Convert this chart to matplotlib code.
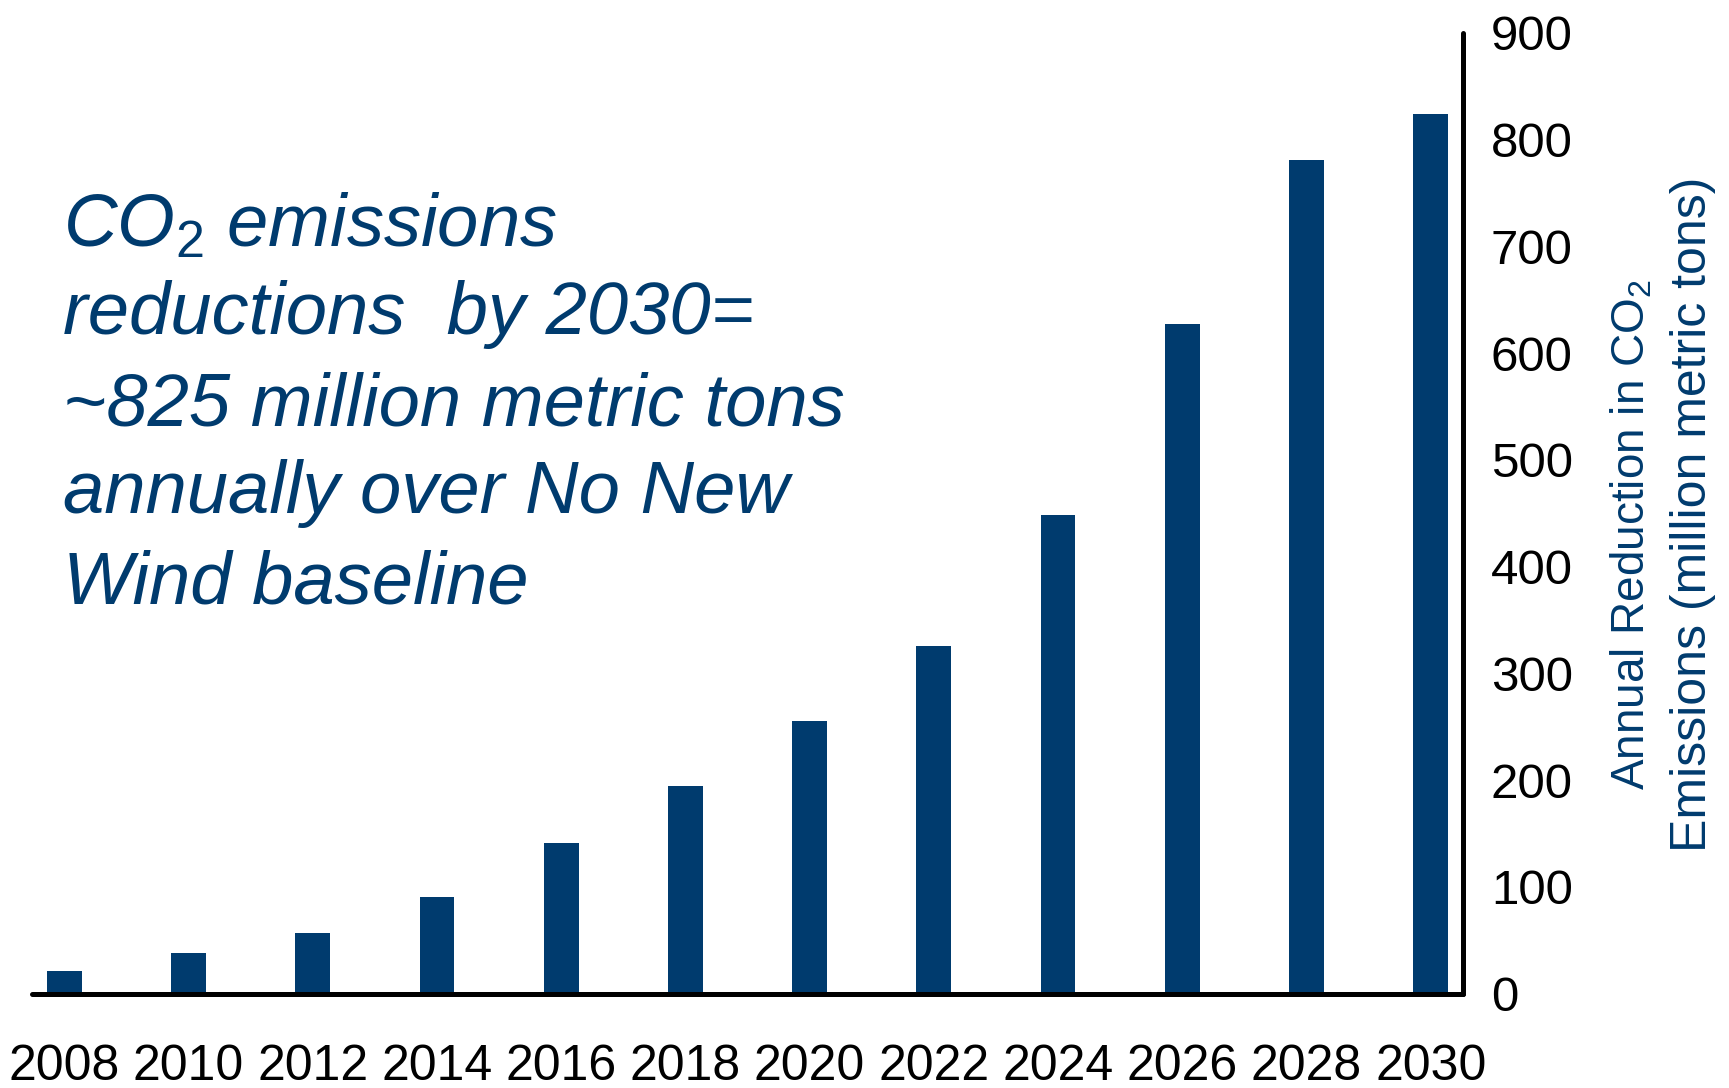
import numpy as np
import matplotlib
matplotlib.use("Agg")
import matplotlib.pyplot as plt

plt.rcParams['font.family'] = ['Liberation Sans', 'DejaVu Sans']
plt.rcParams['mathtext.fontset'] = 'custom'
plt.rcParams['mathtext.rm'] = 'Liberation Sans'
plt.rcParams['mathtext.it'] = 'Liberation Sans:italic'

# data
years = ['2008', '2010', '2012', '2014', '2016', '2018',
         '2020', '2022', '2024', '2026', '2028', '2030']
reduction = [21, 38, 57, 90, 141, 194, 255, 326, 448, 627, 781, 824]
yticks = [0, 100, 200, 300, 400, 500, 600, 700, 800, 900]

navy = '#003B6E'

fig = plt.figure(figsize=(17.29, 10.88), dpi=100)
ax = fig.add_axes([32 / 1729, 1 - 993.5 / 1088, 1431 / 1729, 960.5 / 1088])

x = np.arange(len(years))
ax.bar(x, reduction, width=0.28, color=navy, zorder=2)

ax.set_xlim(-0.26, 11.26)
ax.set_ylim(0, 900)
ax.set_xticks(x)
ax.set_xticklabels(years, fontsize=36)
ax.set_yticks(yticks)
ax.yaxis.tick_right()
ax.tick_params(axis='x', length=0, pad=36)
ax.tick_params(axis='y', length=0, pad=20, labelsize=35.5)

for s in ['top', 'left']:
    ax.spines[s].set_visible(False)
for s in ['bottom', 'right']:
    ax.spines[s].set_linewidth(3.6)
    ax.spines[s].set_color('black')
    ax.spines[s].set_capstyle('round')
    ax.spines[s].set_zorder(3)

# y axis label, two lines
fig.text(1632 / 1729, 1 - 535 / 1088, 'Annual Reduction in CO$_2$', rotation=90,
         ha='center', va='center', fontsize=33, color=navy)
fig.text(1693 / 1729, 1 - 514 / 1088, 'Emissions (million metric tons)', rotation=90,
         ha='center', va='center', fontsize=36, color=navy)

# annotation
lines = ['CO$_2$ emissions',
         'reductions  by 2030=',
         '~825 million metric tons',
         'annually over No New',
         'Wind baseline']
baselines = [246, 334, 425, 513, 603]
for txt, yb in zip(lines, baselines):
    fig.text(63 / 1729, 1 - yb / 1088, txt, ha='left', va='baseline',
             fontsize=53.5, fontstyle='italic', color=navy)

fig.savefig('out.png', dpi=100)
